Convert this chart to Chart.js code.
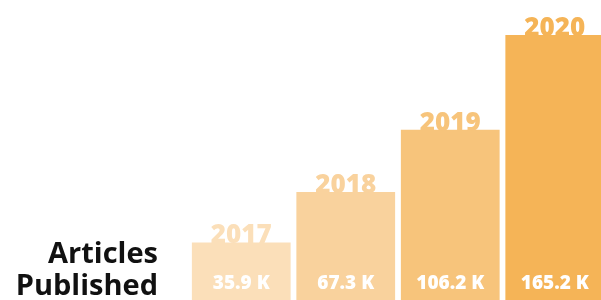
<!DOCTYPE html>
<html>
<head>
<meta charset="utf-8">
<script src="https://cdn.jsdelivr.net/npm/chart.js@4"></script>
<style>
html,body{margin:0;padding:0;background:#fff;overflow:hidden;width:601px;height:300px;}
#wrap{position:absolute;left:0;top:0;width:607px;height:300px;}
#title{position:absolute;right:443px;top:236px;font-family:"Open Sans",Lato,sans-serif;font-weight:700;font-size:29px;line-height:32px;color:#111;text-align:right;white-space:nowrap;}
</style>
</head>
<body>
<div id="wrap"><canvas id="c" width="607" height="300"></canvas></div>
<div id="title">Articles<br>Published</div>
<script>
const years = ["2017", "2018", "2019", "2020"];
const articles = [35.9, 67.3, 106.2, 165.2];
const valueLabels = ["35.9 K", "67.3 K", "106.2 K", "165.2 K"];
const barColors = ["#FBDFB9", "#F9D29D", "#F7C47B", "#F5B457"];

const labelPlugin = {
  id: 'labels',
  afterDatasetsDraw(chart) {
    const ctx = chart.ctx;
    const meta = chart.getDatasetMeta(0);
    ctx.save();
    ctx.textAlign = 'center';
    meta.data.forEach((bar, i) => {
      ctx.fillStyle = barColors[i];
      ctx.font = '800 26px "Open Sans", Lato, sans-serif';
      ctx.textBaseline = 'alphabetic';
      ctx.fillText(years[i], bar.x, bar.y + 1);
      ctx.fillStyle = '#ffffff';
      ctx.font = '800 19px "Open Sans", Lato, sans-serif';
      ctx.fillText(valueLabels[i], bar.x, chart.chartArea.bottom - 11);
    });
    ctx.restore();
  }
};

new Chart(document.getElementById('c'), {
  type: 'bar',
  data: {
    labels: years,
    datasets: [{
      data: articles,
      backgroundColor: barColors,
      borderWidth: 0,
      barPercentage: 0.945,
      categoryPercentage: 1.0
    }]
  },
  options: {
    responsive: false,
    animation: false,
    layout: { padding: { left: 189, right: 0, top: 0, bottom: 0 } },
    plugins: { legend: { display: false }, tooltip: { enabled: false } },
    scales: {
      x: { display: false },
      y: { display: false, min: 0, max: 187 }
    }
  },
  plugins: [labelPlugin]
});
</script>
</body>
</html>
